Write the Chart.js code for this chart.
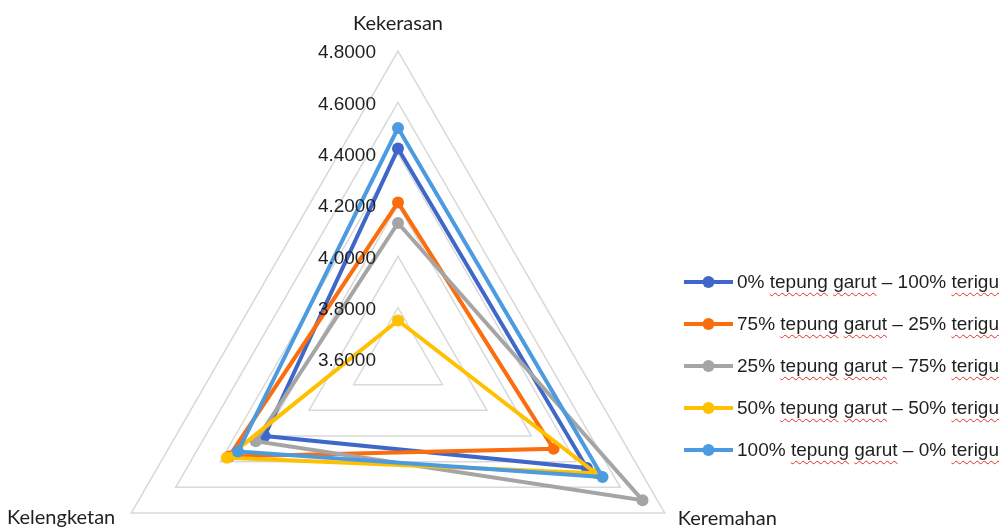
<!DOCTYPE html>
<html>
<head>
<meta charset="utf-8">
<script src="https://cdn.jsdelivr.net/npm/chart.js@4/dist/chart.umd.min.js"></script>
<style>
  html, body { margin: 0; padding: 0; background: #fff; overflow: hidden; }
  #wrap { position: relative; width: 1005px; height: 680px; }
  #legend { position: absolute; left: 684px; top: 261px; font: 19px "Liberation Sans", Arial, sans-serif; color: #1f1f1f; }
  #legend .item { display: flex; align-items: center; height: 42px; white-space: nowrap; }
  #legend canvas { margin-right: 4px; }
  #legend .sp { text-decoration: underline wavy #e0302a; text-decoration-thickness: 1px; text-underline-offset: 4px; }
</style>
</head>
<body>
<div id="wrap"><canvas id="chart"></canvas><div id="legend"></div></div>
<script>
const categories = ['Kekerasan', 'Keremahan', 'Kelengketan'];
const seriesNames = [
  '0% tepung garut \u2013 100% terigu',
  '75% tepung garut \u2013 25% terigu',
  '25% tepung garut \u2013 75% terigu',
  '50% tepung garut \u2013 50% terigu',
  '100% tepung garut \u2013 0% terigu'
];
const garut0 = [4.42, 4.45, 4.20];
const garut75 = [4.21, 4.30, 4.36];
const garut25 = [4.13, 4.70, 4.24];
const garut50 = [3.75, 4.49, 4.37];
const garut100 = [4.50, 4.52, 4.32];
const tickValues = [3.6, 3.8, 4.0, 4.2, 4.4, 4.6, 4.8];

const seriesValues = [garut0, garut75, garut25, garut50, garut100];
const colors = ['#3F67C9', '#FA6E0F', '#A5A5A5', '#FFC000', '#4C9BE0'];
const textColor = '#1f1f1f';

// little line + dot picture used as the legend marker
function legendSample(color) {
  const c = document.createElement('canvas');
  c.width = 49;
  c.height = 14;
  const g = c.getContext('2d');
  g.strokeStyle = color;
  g.lineWidth = 4;
  g.beginPath();
  g.moveTo(0, 7);
  g.lineTo(49, 7);
  g.stroke();
  g.fillStyle = color;
  g.beginPath();
  g.arc(24.5, 7, 6, 0, Math.PI * 2);
  g.fill();
  return c;
}

// words the spell checker had flagged in the original
function markWords(text) {
  return text.replace(/(tepung|garut|terigu)/g, '<span class="sp">$1</span>');
}

const htmlLegend = {
  id: 'htmlLegend',
  afterUpdate(chart) {
    const box = document.getElementById('legend');
    box.innerHTML = '';
    chart.data.datasets.forEach((ds, i) => {
      const row = document.createElement('div');
      row.className = 'item';
      row.appendChild(legendSample(ds.borderColor));
      const label = document.createElement('span');
      label.innerHTML = markWords(ds.label);
      row.appendChild(label);
      box.appendChild(row);
    });
  }
};

// axis names and tick values, placed from the radial scale
const radarText = {
  id: 'radarText',
  afterDatasetsDraw(chart) {
    const s = chart.scales.r;
    const ctx = chart.ctx;
    ctx.save();
    ctx.fillStyle = textColor;
    ctx.font = '19px "Liberation Sans", Arial, sans-serif';
    ctx.textAlign = 'right';
    ctx.textBaseline = 'middle';
    tickValues.forEach(v => {
      const d = s.getDistanceFromCenterForValue(v);
      ctx.fillText(v.toFixed(4), s.xCenter - 22, s.yCenter - d + 2);
    });

    ctx.font = '20px Lato, sans-serif';
    ctx.textBaseline = 'alphabetic';
    categories.forEach((name, i) => {
      const p = s.getPointPosition(i, s.drawingArea);
      if (i === 0) {
        ctx.textAlign = 'center';
        ctx.fillText(name, p.x, p.y - 21);
      } else if (p.x > s.xCenter) {
        ctx.textAlign = 'left';
        ctx.fillText(name, p.x + 13, p.y + 12);
      } else {
        ctx.textAlign = 'right';
        ctx.fillText(name, p.x - 16, p.y + 11);
      }
    });
    ctx.restore();
  }
};

const datasets = seriesNames.map((name, i) => ({
  label: name,
  data: seriesValues[i],
  borderColor: colors[i],
  backgroundColor: colors[i],
  pointBackgroundColor: colors[i],
  pointBorderColor: colors[i],
  borderWidth: 4,
  pointRadius: 6,
  pointBorderWidth: 0,
  fill: false,
  order: seriesNames.length - i
}));

new Chart(document.getElementById('chart'), {
  type: 'radar',
  data: { labels: categories, datasets },
  options: {
    responsive: true,
    maintainAspectRatio: false,
    animation: false,
    layout: { padding: { top: 51, bottom: 13, left: 90, right: 299 } },
    scales: {
      r: {
        min: 3.6,
        max: 4.8,
        ticks: { display: false, stepSize: 0.2 },
        grid: { circular: false, color: '#d9d9d9', lineWidth: 1.5 },
        angleLines: { display: false },
        pointLabels: { display: false }
      }
    },
    plugins: {
      tooltip: { enabled: false },
      legend: { display: false }
    }
  },
  plugins: [radarText, htmlLegend]
});
</script>
</body>
</html>
